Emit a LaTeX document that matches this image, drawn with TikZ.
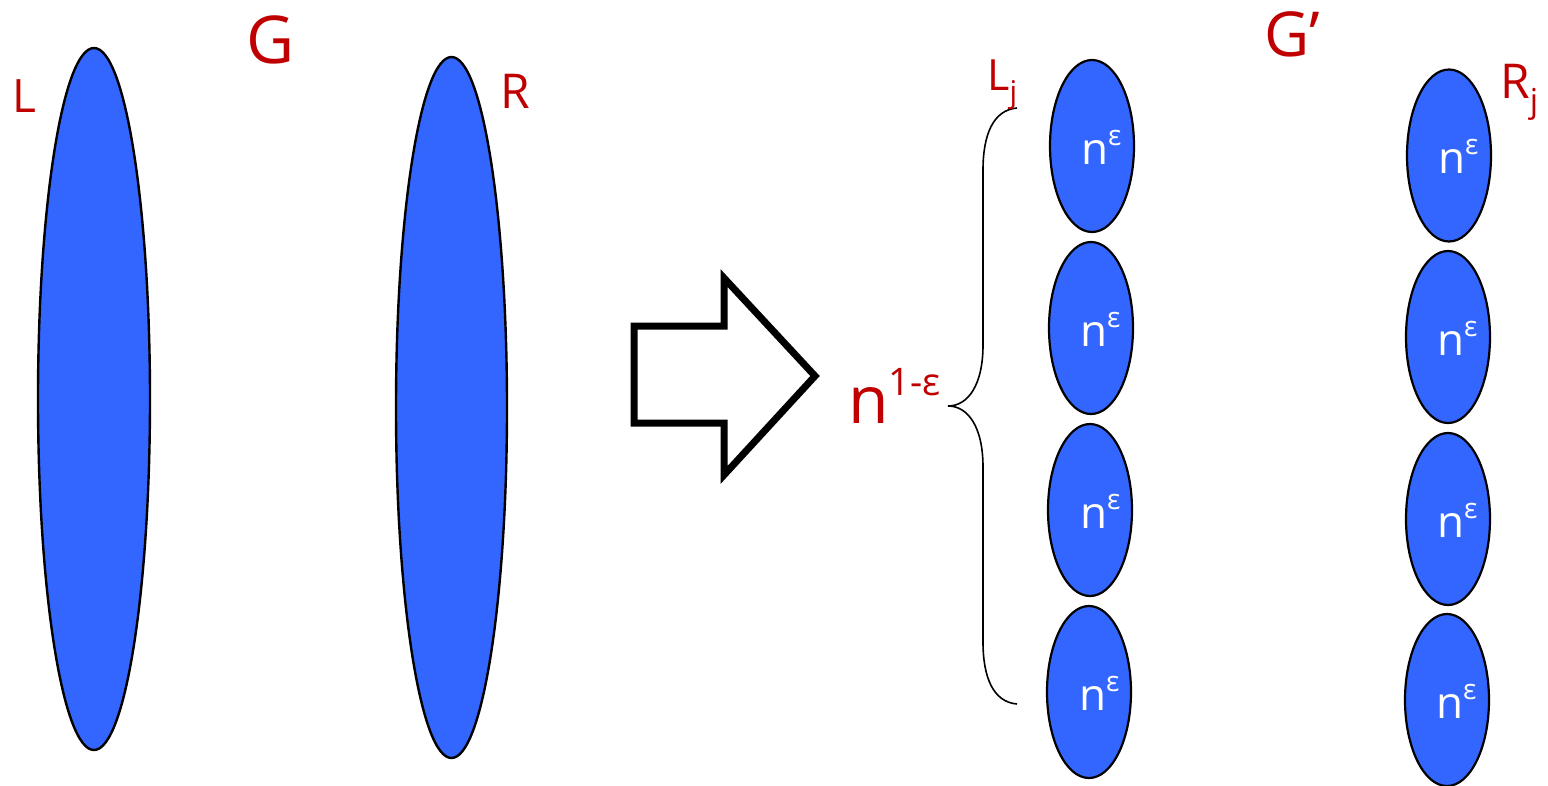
\documentclass[tikz,border=0pt]{standalone}
\usepackage{fontspec}
\setmainfont{Open Sans}
\usetikzlibrary{shapes.geometric}
\definecolor{lblred}{HTML}{C00000}
\definecolor{setblue}{HTML}{3366FF}
\tikzset{
  bigset/.style={ellipse, draw=black, line width=2.4pt, fill=setblue, inner sep=0pt},
  smallset/.style={ellipse, draw=black, line width=2.2pt, fill=setblue, inner sep=0pt, minimum width=84pt, minimum height=172pt},
  redlbl/.style={text=lblred, inner sep=0pt, anchor=base west},
  whitelbl/.style={text=white, inner sep=0pt, anchor=base west, font=\fontsize{44}{44}\selectfont}
}
\begin{document}
\begin{tikzpicture}[x=1pt,y=-1pt]
\useasboundingbox (0,0) rectangle (1548,785);
% big sets
\node[bigset, minimum width=112pt, minimum height=702pt] (Lset) at (94,399) {};
\node[bigset, minimum width=111pt, minimum height=701pt] (Rset) at (451.5,407.5) {};
\node[redlbl, font=\fontsize{46}{46}\selectfont] (Llbl) at (12,112) {L};
\node[redlbl, font=\fontsize{66}{66}\selectfont] (Glbl) at (246,63) {G};
\node[redlbl, font=\fontsize{48}{48}\selectfont] (Rlbl) at (500,108) {R};
% block arrow
\draw[line width=7pt, line join=miter] (634,326) -- (724,326) -- (724,278) -- (815,376) -- (724,475) -- (724,423) -- (634,423) -- cycle;
% n^{1-eps}
\node[redlbl, font=\fontsize{66}{66}\selectfont] (nexp) at (848,423) {n\raisebox{0.42em}{\fontsize{38}{38}\selectfont 1-ε}};
% brace
\coordinate (btop) at (1017,108);
\coordinate (bbot) at (1017,704);
\coordinate (btip) at (948,406);
\draw[line width=1.6pt] (btop) .. controls (993,110) and (983,135) .. (983,170) -- (983,345)
  .. controls (983,385) and (968,406) .. (btip)
  .. controls (968,406) and (983,427) .. (983,467) -- (983,642)
  .. controls (983,677) and (993,702) .. (bbot);
% left column
\node[smallset] (L1) at (1092,146) {};
\node[smallset] (L2) at (1091,328) {};
\node[smallset] (L3) at (1090,510) {};
\node[smallset] (L4) at (1089,692) {};
% right column
\node[smallset] (R1) at (1449,155.5) {};
\node[smallset] (R2) at (1448,337) {};
\node[smallset] (R3) at (1448,519) {};
\node[smallset] (R4) at (1447,700) {};
% n^eps labels
\foreach \x/\y [count=\i] in {1081/164, 1080/346, 1080/528, 1079/710, 1438/173, 1437/355, 1437/537, 1436/718}{
  \node[whitelbl] (ne\i) at (\x,\y) {n\raisebox{0.42em}{\fontsize{28}{28}\selectfont ε}};
}
\node[redlbl, font=\fontsize{43}{43}\selectfont] (Ljlbl) at (987,90) {L\raisebox{-0.3em}{\fontsize{30}{30}\selectfont j}};
\node[redlbl, font=\fontsize{62}{62}\selectfont] (Gplbl) at (1264,56) {G’};
\node[redlbl, font=\fontsize{48}{48}\selectfont] (Rjlbl) at (1500,98) {R\raisebox{-0.3em}{\fontsize{33}{33}\selectfont j}};
\end{tikzpicture}
\end{document}
